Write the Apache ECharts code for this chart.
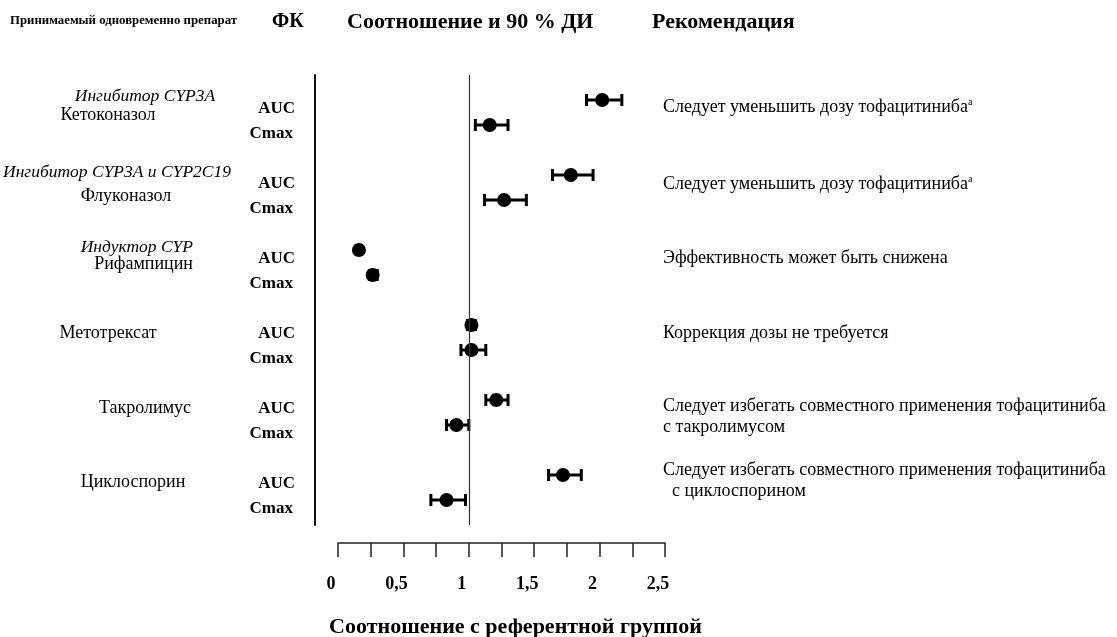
<!DOCTYPE html>
<html><head><meta charset="utf-8">
<script src="https://cdn.jsdelivr.net/npm/echarts@6/dist/echarts.min.js"></script>
<style>html,body{margin:0;padding:0;background:#fff}#c{width:1117px;height:637px}</style>
</head><body><div id="c"></div>
<script>
// ---- data ----
const drugs = ['Кетоконазол','Флуконазол','Рифампицин','Метотрексат','Такролимус','Циклоспорин'];
const drugClasses = ['Ингибитор CYP3A','Ингибитор CYP3A и CYP2C19','Индуктор CYP','','',''];
const params = ['AUC','Cmax'];
const aucRatio = [2.02, 1.78, 0.16, 1.02, 1.21, 1.72];
const aucLow   = [1.90, 1.64, 0.14, 0.99, 1.13, 1.61];
const aucHigh  = [2.17, 1.95, 0.18, 1.05, 1.30, 1.86];
const cmaxRatio = [1.16, 1.27, 0.265, 1.02, 0.905, 0.83];
const cmaxLow   = [1.05, 1.12, 0.24, 0.94, 0.83, 0.71];
const cmaxHigh  = [1.30, 1.44, 0.30, 1.13, 1.00, 0.975];
const recommendations = [
  ['Следует уменьшить дозу тофацитиниба{sup|а}'],
  ['Следует уменьшить дозу тофацитиниба{sup|а}'],
  ['Эффективность может быть снижена'],
  ['Коррекция дозы не требуется'],
  ['Следует избегать совместного применения тофацитиниба','с такролимусом'],
  ['Следует избегать совместного применения тофацитиниба','  с циклоспорином']
];
const xTicks = [0, 0.5, 1, 1.5, 2, 2.5];
const headers = ['Принимаемый одновременно препарат','ФК','Соотношение и 90 % ДИ','Рекомендация'];
const xAxisTitle = 'Соотношение с референтной группой';

// ---- layout (label placement, not data) ----
const drugLayout = [ {x:108, dy:15, align:'center'}, {x:126, dy:21, align:'center'}, {x:193, dy:14, align:'right'},
                     {x:108, dy:8, align:'center'}, {x:145, dy:8, align:'center'}, {x:133, dy:7, align:'center'} ];
const classLayout = [ {x:145, dy:-4, align:'center'}, {x:117, dy:-3, align:'center'}, {x:193, dy:-3, align:'right'} ];
const recDy = [7, 9, 8, 8, 6, -5];

const FONT = '"Liberation Serif", "Times New Roman", serif';
const rows = [];
drugs.forEach((d,i)=>{
  rows.push({y:3*i, v:aucRatio[i], lo:aucLow[i], hi:aucHigh[i]});
  rows.push({y:3*i+1, v:cmaxRatio[i], lo:cmaxLow[i], hi:cmaxHigh[i]});
});

const chart = echarts.init(document.getElementById('c'));
const option = {
  animation:false,
  backgroundColor:'#fff',
  grid:{left:338, right:452, top:75, bottom:112, containLabel:false, outerBoundsMode:'none'},
  xAxis:{
    type:'value', min:0, max:2.5, interval:0.25, offset:18,
    axisLine:{show:true, onZero:false, lineStyle:{color:'#222', width:1.5}},
    axisTick:{show:true, length:14, lineStyle:{color:'#222', width:1.5}},
    splitLine:{show:false},
    axisLabel:{margin:32, fontFamily:FONT, fontWeight:'bold', fontSize:18, color:'#000',
      padding:[0,14,0,0],
      formatter:v=>{ const m = xTicks.find(t=>Math.abs(t-v)<1e-9); return m===undefined?'':String(m).replace('.',','); }},
    name:xAxisTitle, nameLocation:'middle', nameGap:73,
    nameTextStyle:{fontFamily:FONT, fontWeight:'bold', fontSize:22, color:'#000', padding:[0,0,0,28]}
  },
  yAxis:{
    type:'value', min:-1, max:17, inverse:true, offset:23,
    axisLine:{show:true, onZero:false, lineStyle:{color:'#111', width:2}},
    axisTick:{show:false}, axisLabel:{show:false}, splitLine:{show:false}
  },
  series:[
    {
      type:'custom', z:2,
      data: rows.map(r=>[r.lo, r.hi, r.y]),
      renderItem:(params, api)=>{
        const p1 = api.coord([api.value(0), api.value(2)]);
        const p2 = api.coord([api.value(1), api.value(2)]);
        const h = 6;
        const st = {stroke:'#000', lineWidth:3};
        return {type:'group', children:[
          {type:'line', shape:{x1:p1[0], y1:p1[1], x2:p2[0], y2:p2[1]}, style:st},
          {type:'line', shape:{x1:p1[0], y1:p1[1]-h, x2:p1[0], y2:p1[1]+h}, style:st},
          {type:'line', shape:{x1:p2[0], y1:p2[1]-h, x2:p2[0], y2:p2[1]+h}, style:st}
        ]};
      }
    },
    {
      type:'scatter', z:3, symbol:'circle', symbolSize:14,
      itemStyle:{color:'#000', opacity:1},
      data: rows.map(r=>[r.v, r.y]),
      markLine:{
        silent:true, symbol:'none', label:{show:false},
        lineStyle:{color:'#333', width:1.2, type:'solid'},
        data:[{xAxis:1}]
      }
    }
  ]
};
chart.setOption(option);

// text labels positioned through the axis scale
const g = [];
const yPix = idx => chart.convertToPixel({gridIndex:0}, [0, idx])[1];
const txt = (x,y,text,opt)=>({type:'text', x, y, style:Object.assign({text, fontFamily:FONT, fontSize:18, fill:'#000', align:'left', verticalAlign:'middle'}, opt||{})});

g.push(txt(10, 21, headers[0], {fontWeight:'bold', fontSize:12.8}));
g.push(txt(272, 22, headers[1], {fontWeight:'bold', fontSize:20}));
g.push(txt(347, 22, headers[2], {fontWeight:'bold', fontSize:22}));
g.push(txt(652, 22, headers[3], {fontWeight:'bold', fontSize:22}));

drugs.forEach((d,i)=>{
  const ya = yPix(3*i), yc = yPix(3*i+1);
  g.push(txt(295, ya+9, params[0], {fontWeight:'bold', fontSize:17, align:'right'}));
  g.push(txt(293, yc+9, params[1], {fontWeight:'bold', fontSize:17, align:'right'}));
  const dl = drugLayout[i];
  g.push(txt(dl.x, ya+dl.dy, d, {align:dl.align}));
  if (drugClasses[i]) {
    const cl = classLayout[i];
    g.push(txt(cl.x, ya+cl.dy, drugClasses[i], {align:cl.align, fontStyle:'italic', fontSize:17.5}));
  }
  const rec = recommendations[i];
  const multi = rec.length>1;
  g.push({type:'text', x:663, y:ya+recDy[i] - (multi?10:0), style:{
    text: rec.join('\n'), fontFamily:FONT, fontSize:18, fill:'#000', lineHeight:multi?21:20,
    verticalAlign: multi ? 'top' : 'middle', align:'left',
    rich:{sup:{fontSize:10, fontFamily:FONT, verticalAlign:'top', lineHeight:20, fill:'#000'}}
  }});
});
chart.setOption({graphic:{elements:g}});
</script></body></html>
